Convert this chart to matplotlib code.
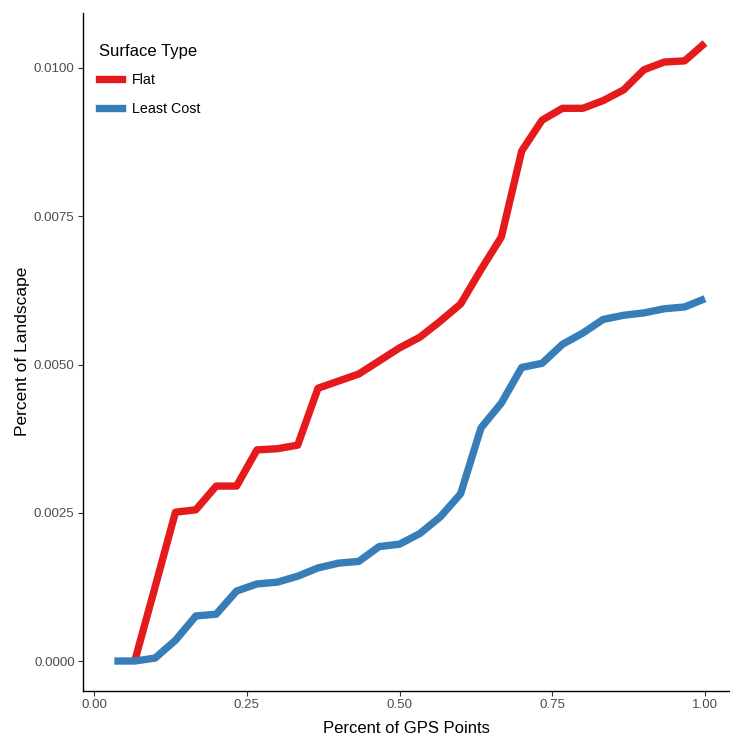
import matplotlib
matplotlib.use("Agg")
import matplotlib.pyplot as plt
from matplotlib.lines import Line2D

plt.rcParams['font.family'] = ['Liberation Sans', 'DejaVu Sans']

flat_x = [2/30, 3/30, 4/30, 5/30, 6/30, 7/30, 8/30, 9/30, 10/30, 11/30, 12/30, 13/30,
          14/30, 15/30, 16/30, 17/30, 18/30, 19/30, 20/30, 21/30, 22/30, 23/30, 24/30,
          25/30, 26/30, 27/30, 28/30, 29/30, 30/30]
flat_y = [0.0000, 0.00125, 0.00251, 0.00255, 0.00295, 0.00295, 0.00356, 0.00358, 0.00364,
          0.00460, 0.00472, 0.00484, 0.00506, 0.00528, 0.00546, 0.00573, 0.00602, 0.00660,
          0.00715, 0.00860, 0.00912, 0.00932, 0.00932, 0.00945, 0.00963, 0.00997, 0.01010,
          0.01012, 0.01042]
lc_x = [1/30, 2/30, 3/30, 4/30, 5/30, 6/30, 7/30, 8/30, 9/30, 10/30, 11/30, 12/30, 13/30,
        14/30, 15/30, 16/30, 17/30, 18/30, 19/30, 20/30, 21/30, 22/30, 23/30, 24/30,
        25/30, 26/30, 27/30, 28/30, 29/30, 30/30]
lc_y = [0.0000, 0.0000, 0.00005, 0.00035, 0.00076, 0.00079, 0.00118, 0.00130, 0.00133,
        0.00143, 0.00157, 0.00165, 0.00168, 0.00193, 0.00197, 0.00215, 0.00243, 0.00282,
        0.00393, 0.00435, 0.00495, 0.00502, 0.00534, 0.00553, 0.00576, 0.00583, 0.00587,
        0.00594, 0.00597, 0.00611]

series_names = ["Flat", "Least Cost"]
series_colors = ["#E41A1C", "#377EB8"]
x_ticks = [0.00, 0.25, 0.50, 0.75, 1.00]
x_ticklabels = ["0.00", "0.25", "0.50", "0.75", "1.00"]
y_ticks = [0.0000, 0.0025, 0.0050, 0.0075, 0.0100]
y_ticklabels = ["0.0000", "0.0025", "0.0050", "0.0075", "0.0100"]

W, H = 730, 738
fig = plt.figure(figsize=(W/100, H/100), dpi=100)
ax = fig.add_axes([83/W, 1 - 690.5/H, (W - 83)/W, (690.5 - 13)/H])

lw = 5.3
ax.plot(flat_x, flat_y, color=series_colors[0], lw=lw, solid_joinstyle='round',
        solid_capstyle='butt', label=series_names[0])
ax.plot(lc_x, lc_y, color=series_colors[1], lw=lw, solid_joinstyle='round',
        solid_capstyle='butt', label=series_names[1])

ax.set_xlim(-0.018, 1.0409)
ax.set_ylim(-0.000497, 0.010927)
ax.set_xticks(x_ticks)
ax.set_xticklabels(x_ticklabels)
ax.set_yticks(y_ticks)
ax.set_yticklabels(y_ticklabels)

for s in ['top', 'right']:
    ax.spines[s].set_visible(False)
for s in ['left', 'bottom']:
    ax.spines[s].set_linewidth(1.0)
    ax.spines[s].set_color('black')

ax.tick_params(axis='both', length=3.5, width=0.8, color='#333333',
               labelsize=9.6, labelcolor='#4D4D4D', pad=2.5)

ax.set_xlabel("Percent of GPS Points", fontsize=12, color='black', labelpad=7)
ax.set_ylabel("Percent of Landscape", fontsize=12.5, color='black', labelpad=3)

handles = [Line2D([], [], color=c, lw=lw) for c in series_colors]
leg = ax.legend(handles, series_names, title="Surface Type", loc='upper left',
                bbox_to_anchor=(99/W, 1 - 44/H), bbox_transform=fig.transFigure,
                frameon=False, fontsize=10.3, title_fontsize=12,
                handlelength=1.6, handletextpad=0.7, labelspacing=1.0,
                borderpad=0, borderaxespad=0)
leg._legend_box.align = "left"

fig.savefig("out.png", dpi=100)
